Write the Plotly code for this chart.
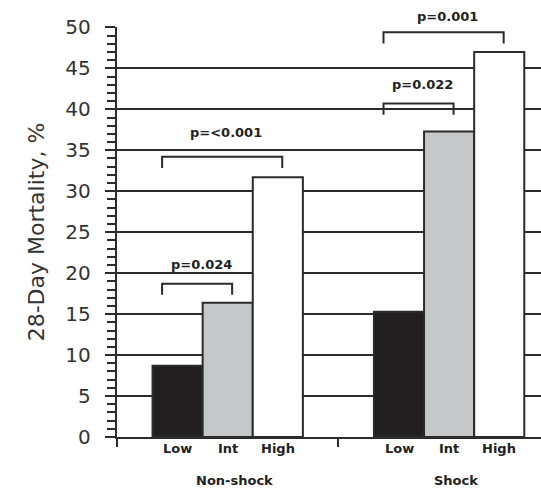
import plotly.graph_objects as go

# ---- data ----
groups = ["Non-shock", "Shock"]
levels = ["Low", "Int", "High"]
mortality = {
    "Low": [8.7, 15.3],
    "Int": [16.4, 37.3],
    "High": [31.7, 47.0],
}
bar_colors = {"Low": "#231f20", "Int": "#c6c7c9", "High": "#ffffff"}

# significance brackets: group index, from level index, to level index
br_group = [0, 0, 1, 1]
br_from = [0, 0, 0, 0]
br_to = [1, 2, 1, 2]
br_y = [18.7, 34.2, 40.7, 49.4]
br_text_y = [21.0, 37.2, 43.05, 51.3]
p_labels = ["p=0.024", "p=<0.001", "p=0.022", "p=0.001"]

# ---- layout constants ----
BARGAP = 0.321
W = (1 - BARGAP) / 3  # width of one bar in x units
INK = "#2b2b2b"
FONT = "DejaVu Sans"
PX_PER_UNIT = 410 / 50
Y_RANGE = [0, 50.05]

def bar_center(g, i):
    return g + (i - 1) * W

fig = go.Figure()
xs = list(range(len(groups)))
for lv in levels:
    fig.add_trace(go.Bar(
        x=xs, y=mortality[lv], name=lv,
        marker=dict(color=bar_colors[lv], line=dict(color=INK, width=2)),
        showlegend=False, hoverinfo="skip",
    ))

shapes = []
annotations = []
leg = 1.35
for g, a, b, yb, yt, lab in zip(br_group, br_from, br_to, br_y, br_text_y, p_labels):
    x0 = bar_center(g, a) - 0.07
    x1 = bar_center(g, b) + 0.02
    shapes.append(dict(
        type="path", xref="x", yref="y",
        path=f"M {x0} {yb-leg} L {x0} {yb} L {x1} {yb} L {x1} {yb-leg}",
        line=dict(color=INK, width=2),
    ))
    annotations.append(dict(
        x=(x0 + x1) / 2, y=yb, xref="x", yref="y", text=lab, showarrow=False,
        yanchor="middle", yshift=(yt - yb) * PX_PER_UNIT, xshift=4,
        font=dict(family=FONT, size=13, color="#222", weight="bold"),
    ))

for g in xs:
    for i, lv in enumerate(levels):
        annotations.append(dict(
            x=bar_center(g, i), y=0, xref="x", yref="y", text=lv, showarrow=False,
            yanchor="middle", yshift=-11,
            font=dict(family=FONT, size=13, color="#222", weight="bold"),
        ))
    annotations.append(dict(
        x=g + 0.03, y=0, xref="x", yref="y", text=groups[g], showarrow=False,
        yanchor="middle", yshift=-43,
        font=dict(family=FONT, size=13, color="#222", weight="bold"),
    ))

fig.update_layout(
    width=541, height=491,
    margin=dict(l=117, r=0, t=27, b=54),
    paper_bgcolor="white", plot_bgcolor="white",
    barmode="group", bargap=BARGAP, bargroupgap=0,
    shapes=shapes, annotations=annotations,
    xaxis=dict(
        range=[-0.5, 1.415], showgrid=False, zeroline=False,
        showline=True, linecolor=INK, linewidth=2,
        tickvals=[-0.5, 0.5], ticktext=["", ""],
        ticks="outside", ticklen=8, tickwidth=2, tickcolor=INK,
    ),
    yaxis=dict(
        range=Y_RANGE, dtick=5, tick0=0,
        showgrid=True, gridcolor=INK, gridwidth=2,
        zeroline=False, showline=True, linecolor=INK, linewidth=2,
        ticks="outside", ticklen=10, tickwidth=2, tickcolor=INK,
        minor=dict(dtick=1, ticks="outside", ticklen=8, tickwidth=1.5, tickcolor=INK),
        tickfont=dict(family=FONT, size=20, color="#333"),
        ticksuffix="\u00a0\u2009",
        title=dict(text="28-Day Mortality, %", font=dict(family=FONT, size=22, color="#333"), standoff=14),
    ),
)

fig.write_html("out.html")
